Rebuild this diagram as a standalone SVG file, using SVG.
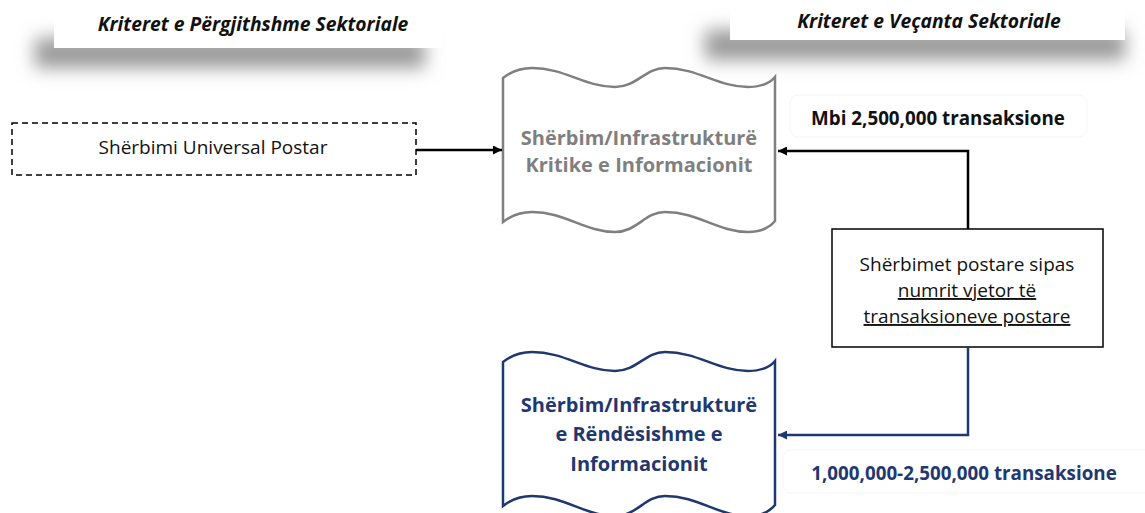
<svg xmlns="http://www.w3.org/2000/svg" width="1145" height="513" viewBox="0 0 1145 513">
<style>
  .hdr{font-family:"Open Sans","Liberation Sans",sans-serif;font-weight:700;font-style:italic;font-size:19.3px;fill:#111;text-anchor:middle}
  .reg{font-family:"Open Sans","Liberation Sans",sans-serif;font-size:19px;fill:#111;text-anchor:middle}
  .bold{font-family:"Open Sans","Liberation Sans",sans-serif;font-weight:700;font-size:20px;text-anchor:middle}
  .lbl{font-family:"Open Sans","Liberation Sans",sans-serif;font-weight:700;font-size:18.8px;text-anchor:middle}
  .ul{text-decoration:underline}
  .conn{fill:none;stroke-width:2.5}
</style>
<defs>
  <filter id="blur" x="-20%" y="-150%" width="140%" height="400%">
    <feGaussianBlur stdDeviation="9"/>
  </filter>
  <marker id="ahK" viewBox="0 0 10 10" refX="10" refY="5" markerWidth="10" markerHeight="9" markerUnits="userSpaceOnUse" orient="auto">
    <path d="M0,0 L10,5 L0,10 Z" fill="#000"/>
  </marker>
  <marker id="ahB" viewBox="0 0 10 10" refX="10" refY="5" markerWidth="10" markerHeight="9" markerUnits="userSpaceOnUse" orient="auto">
    <path d="M0,0 L10,5 L0,10 Z" fill="#1f3870"/>
  </marker>
  <path id="tape" d="M503,78 C512,71 522,68 532,68 C565,68 585,87 615,87 C637,87 645,68 665,68 C698,68 718,87 748,87 C762,87 770,83 775,77 L775,221 C770,227 762,232 748,232 C718,232 698,212 665,212 C645,212 637,232 615,232 C585,232 565,212 532,212 C522,212 512,215 503,222 Z"/>
</defs>

<g id="header-general">
  <rect x="35" y="38" width="390" height="30" fill="#9a9a9a" filter="url(#blur)"/>
  <rect x="54" y="0" width="389" height="48" fill="#fff"/>
  <text class="hdr" x="253" y="31">Kriteret e Përgjithshme Sektoriale</text>
</g>

<g id="header-specific">
  <rect x="705" y="30" width="420" height="30" fill="#9a9a9a" filter="url(#blur)"/>
  <rect x="730" y="0" width="395" height="40" fill="#fff"/>
  <text class="hdr" x="929" y="28">Kriteret e Veçanta Sektoriale</text>
</g>

<g id="node-universal">
  <rect x="12" y="123" width="404" height="52" fill="#fff" stroke="#000" stroke-width="1.5" stroke-dasharray="6,4"/>
  <text class="reg" x="213" y="154">Shërbimi Universal Postar</text>
</g>

<g id="node-critical">
  <use href="#tape" fill="#fff" stroke="#7f7f7f" stroke-width="2.5"/>
  <text class="bold" x="639" y="145" fill="#7f7f7f">Shërbim/Infrastrukturë</text>
  <text class="bold" x="639" y="172" fill="#7f7f7f">Kritike e Informacionit</text>
</g>

<g id="node-important">
  <use href="#tape" transform="translate(0,284)" fill="#fff" stroke="#1f3870" stroke-width="2.5"/>
  <text class="bold" x="639" y="412" fill="#1f3870">Shërbim/Infrastrukturë</text>
  <text class="bold" x="639" y="441" fill="#1f3870">e Rëndësishme e</text>
  <text class="bold" x="639" y="471" fill="#1f3870">Informacionit</text>
</g>

<g id="node-postal">
  <rect x="832" y="229" width="271" height="118" fill="#fff" stroke="#000" stroke-width="1.5"/>
  <text class="reg" x="967" y="271">Shërbimet postare sipas</text>
  <text class="reg ul" x="967" y="297">numrit vjetor të</text>
  <text class="reg ul" x="967" y="323">transaksioneve postare</text>
</g>

<g id="connectors">
  <path class="conn" d="M416,150 H502" stroke="#000" stroke-width="1.5" marker-end="url(#ahK)"/>
  <path class="conn" d="M968,229 V151 H778" stroke="#000" marker-end="url(#ahK)"/>
  <path class="conn" d="M968,347 V435 H778" stroke="#1f3870" marker-end="url(#ahB)"/>
  <g id="label-high">
    <rect x="790" y="95" width="297" height="42" rx="8" fill="#fff" stroke="#f6f6f6"/>
    <text class="lbl" x="938" y="125" fill="#111">Mbi 2,500,000 transaksione</text>
  </g>
  <g id="label-mid">
    <rect x="783" y="450" width="370" height="43" rx="8" fill="#fff" stroke="#f6f6f6"/>
    <text class="lbl" x="964" y="480" fill="#1f3870">1,000,000-2,500,000 transaksione</text>
  </g>
</g>
</svg>
